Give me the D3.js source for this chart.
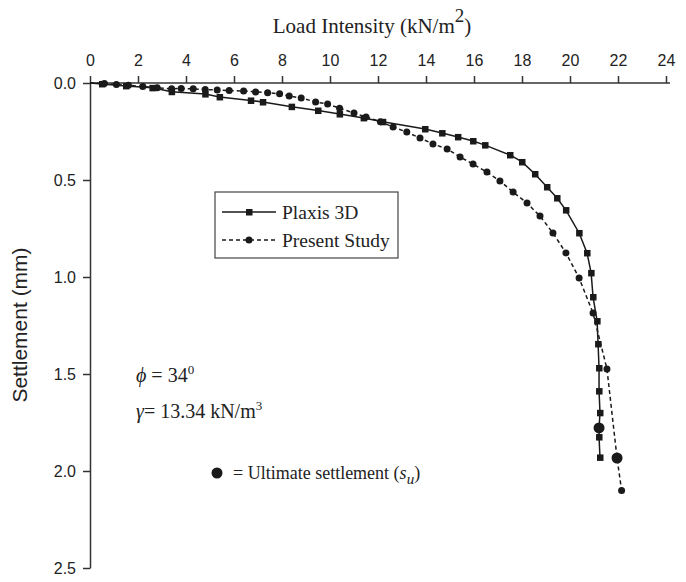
<!DOCTYPE html>
<html><head><meta charset="utf-8">
<script src="https://cdn.jsdelivr.net/npm/d3@7"></script>
<style>body{margin:0;background:#fff}svg{display:block}</style>
</head><body>
<script>
// Data: [load intensity (kN/m2), settlement (mm)]
const plaxisLoad = [0,0.5,1.5,2.6,3.4,4.8,5.4,6.7,7.2,8.4,9.5,10.4,11.4,12.2,13.96,14.67,15.33,15.96,16.46,17.5,18.0,18.54,19.04,19.46,19.83,20.38,20.71,20.88,20.96,21.13,21.17,21.21,21.21,21.25,21.21,21.21,21.25];
const plaxisSettle = [0,0.005,0.015,0.025,0.045,0.057,0.072,0.09,0.098,0.122,0.142,0.16,0.18,0.2,0.237,0.258,0.278,0.299,0.32,0.371,0.407,0.469,0.536,0.593,0.655,0.773,0.876,0.979,1.103,1.227,1.345,1.469,1.588,1.70,1.778,1.825,1.93];
const presentLoad = [0,0.6,1.1,1.6,2.2,2.8,3.4,3.8,4.3,4.8,5.3,5.8,6.4,6.9,7.4,7.9,8.3,8.8,9.4,9.9,10.4,11.0,11.5,12.1,12.63,13.2,13.75,14.29,14.88,15.42,15.96,16.54,17.08,17.63,18.21,18.75,19.29,19.83,20.38,20.96,21.54,21.96,22.15];
const presentSettle = [0,0.003,0.008,0.012,0.018,0.025,0.03,0.028,0.03,0.034,0.036,0.039,0.041,0.046,0.05,0.056,0.067,0.077,0.098,0.108,0.13,0.155,0.175,0.2,0.227,0.253,0.284,0.314,0.34,0.381,0.418,0.459,0.505,0.562,0.619,0.686,0.773,0.876,1.005,1.186,1.474,1.933,2.10];
const ultimateLoad = [21.21, 21.96];
const ultimateSettle = [1.778, 1.933];
const xTicks = [0,2,4,6,8,10,12,14,16,18,20,22,24];
const yTicks = [0.0,0.5,1.0,1.5,2.0,2.5];

const W = 686, H = 582;
const svg = d3.select("body").append("svg").attr("width", W).attr("height", H);
const x = d3.scaleLinear().domain([0, 24]).range([90, 666]);
const y = d3.scaleLinear().domain([0, 2.5]).range([83, 568]);
const ink = "#1a1a1a";
const sans = "Liberation Sans, Arial, sans-serif";
const serif = "Liberation Serif, Times New Roman, serif";

// axes
const xAxis = svg.append("g").attr("transform", "translate(0,83)")
  .call(d3.axisTop(x).tickValues(xTicks).tickFormat(d3.format("d")).tickSize(7).tickSizeOuter(0));
const yAxis = svg.append("g").attr("transform", "translate(90,0)")
  .call(d3.axisLeft(y).tickValues(yTicks).tickFormat(d3.format(".1f")).tickSize(7).tickSizeOuter(0));
[xAxis, yAxis].forEach(g => {
  g.select(".domain").attr("stroke", "#333").attr("stroke-width", 1.5);
  g.selectAll(".tick line").attr("stroke", "#333").attr("stroke-width", 1.5);
  g.selectAll(".tick text").attr("fill", "#222").attr("font-family", sans).attr("font-size", 16);
});
xAxis.select(".domain").attr("d", `M90,0H670`);
xAxis.selectAll(".tick text").attr("dy", "-0.45em");
yAxis.selectAll(".tick text").attr("dx", "-0.25em");

// titles
const t = svg.append("text").attr("x", 372).attr("y", 33).attr("text-anchor", "middle")
  .attr("font-family", serif).attr("font-size", 21).attr("fill", "#222");
t.append("tspan").text("Load Intensity (kN/m");
t.append("tspan").attr("dy", -11).attr("font-size", 19).text("2");
t.append("tspan").attr("dy", 11).text(")");

svg.append("text").attr("transform", "translate(27,325) rotate(-90)").attr("text-anchor", "middle")
  .attr("font-family", sans).attr("font-size", 21).attr("fill", "#222")
  .text("Settlement (mm)");

const plaxis = plaxisLoad.map((v, i) => [v, plaxisSettle[i]]);
const present = presentLoad.map((v, i) => [v, presentSettle[i]]);
const lineLin = d3.line().x(d => x(d[0])).y(d => y(d[1]));

svg.append("path").attr("d", lineLin(plaxis)).attr("fill", "none").attr("stroke", ink).attr("stroke-width", 1.5);
svg.append("path").attr("d", lineLin(present)).attr("fill", "none").attr("stroke", ink).attr("stroke-width", 1.5).attr("stroke-dasharray", "4,3");

svg.append("g").selectAll("rect").data(plaxis.slice(1)).join("rect")
  .attr("x", d => x(d[0]) - 3).attr("y", d => y(d[1]) - 3).attr("width", 6.5).attr("height", 6.5).attr("fill", ink);
svg.append("g").selectAll("circle").data(present.slice(1)).join("circle")
  .attr("cx", d => x(d[0])).attr("cy", d => y(d[1])).attr("r", 3.5).attr("fill", ink);
svg.append("g").selectAll("circle").data(ultimateLoad.map((v, i) => [v, ultimateSettle[i]])).join("circle")
  .attr("cx", d => x(d[0])).attr("cy", d => y(d[1])).attr("r", 5.5).attr("fill", ink);

// legend
const lg = svg.append("g");
lg.append("rect").attr("x", 215).attr("y", 192).attr("width", 183).attr("height", 66)
  .attr("fill", "#fff").attr("stroke", "#444").attr("stroke-width", 1.2);
lg.append("line").attr("x1", 222).attr("x2", 276).attr("y1", 212).attr("y2", 212).attr("stroke", ink).attr("stroke-width", 1.5);
lg.append("rect").attr("x", 246).attr("y", 209).attr("width", 6.5).attr("height", 6.5).attr("fill", ink);
lg.append("line").attr("x1", 222).attr("x2", 276).attr("y1", 240).attr("y2", 240).attr("stroke", ink).attr("stroke-width", 1.5).attr("stroke-dasharray", "4,3");
lg.append("circle").attr("cx", 249).attr("cy", 240).attr("r", 3.5).attr("fill", ink);
lg.append("text").attr("x", 282).attr("y", 219).attr("font-family", serif).attr("font-size", 19.5).attr("fill", "#222").text("Plaxis 3D");
lg.append("text").attr("x", 282).attr("y", 247).attr("font-family", serif).attr("font-size", 19.5).attr("fill", "#222").text("Present Study");

// annotations
const a1 = svg.append("text").attr("x", 136).attr("y", 382).attr("font-family", serif).attr("font-size", 20).attr("fill", "#222");
a1.append("tspan").attr("font-style", "italic").text("\u03D5");
a1.append("tspan").text(" = 34");
a1.append("tspan").attr("dy", -8).attr("font-size", 13).text("0");
const a2 = svg.append("text").attr("x", 136).attr("y", 418).attr("font-family", serif).attr("font-size", 20).attr("fill", "#222");
a2.append("tspan").attr("font-style", "italic").text("\u03B3");
a2.append("tspan").text("= 13.34 kN/m");
a2.append("tspan").attr("dy", -8).attr("font-size", 13).text("3");
svg.append("circle").attr("cx", 217).attr("cy", 473).attr("r", 5.5).attr("fill", ink);
const a3 = svg.append("text").attr("x", 233).attr("y", 479).attr("font-family", serif).attr("font-size", 18).attr("fill", "#222");
a3.append("tspan").text("= Ultimate settlement (");
a3.append("tspan").attr("font-style", "italic").text("s");
a3.append("tspan").attr("dy", 5).attr("font-size", 15).attr("font-style", "italic").text("u");
a3.append("tspan").attr("dy", -5).text(")");
</script>
</body></html>
